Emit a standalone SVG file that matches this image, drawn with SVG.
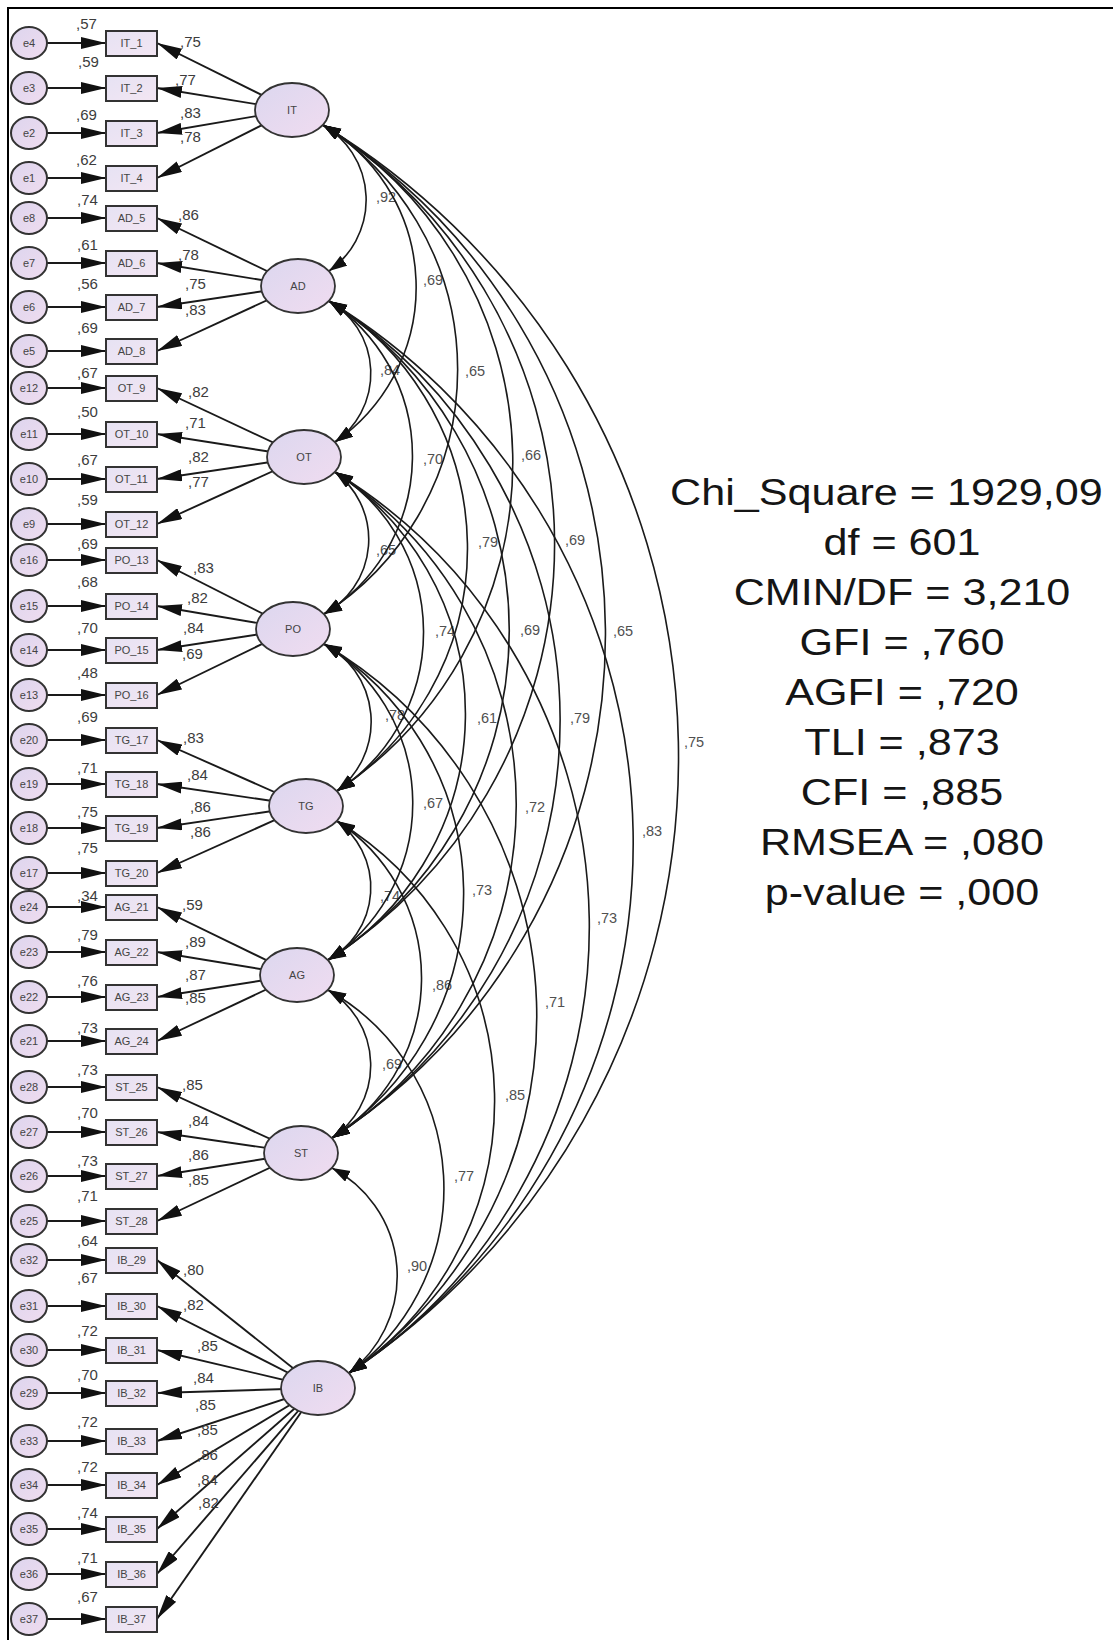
<svg xmlns="http://www.w3.org/2000/svg" width="1113" height="1640" viewBox="0 0 1113 1640">
  <defs>
    <linearGradient id="gLat" x1="0" y1="0" x2="1" y2="1">
      <stop offset="0" stop-color="#dcd7ef"/>
      <stop offset="1" stop-color="#f0dcf0"/>
    </linearGradient>
    <linearGradient id="gErr" x1="0" y1="0" x2="1" y2="1">
      <stop offset="0" stop-color="#ddd5ee"/>
      <stop offset="1" stop-color="#efdcef"/>
    </linearGradient>
    <linearGradient id="gBox" x1="0" y1="0" x2="1" y2="1">
      <stop offset="0" stop-color="#e6e2f3"/>
      <stop offset="1" stop-color="#f3e6f3"/>
    </linearGradient>
    <marker id="ah" markerUnits="userSpaceOnUse" markerWidth="26" markerHeight="12" refX="25" refY="6" orient="auto">
      <path d="M0,0 L25,6 L0,12 Z" fill="#111"/>
    </marker>
    <marker id="ch" markerUnits="userSpaceOnUse" markerWidth="19" markerHeight="13" refX="18" refY="6" orient="auto-start-reverse">
      <path d="M0,0 L18,6 L0,12 Z" fill="#111"/>
    </marker>
  </defs>
  <style>
    .ln { stroke:#1a1a1a; stroke-width:1.9; fill:none; marker-end:url(#ah); }
    .cv { stroke:#1a1a1a; stroke-width:1.6; fill:none; marker-start:url(#ch); marker-end:url(#ch); }
    .err ellipse { fill:url(#gErr); stroke:#333; stroke-width:2; }
    .box rect { fill:url(#gBox); stroke:#333; stroke-width:2; }
    .lat ellipse { fill:url(#gLat); stroke:#333; stroke-width:1.8; }
    text { font-family:"Liberation Sans", Arial, sans-serif; }
    .nl { font-size:11px; fill:#444; text-anchor:middle; }
    .v { font-size:15px; fill:#3c3c3c; }
    .c { font-size:14.5px; fill:#505050; }
    .st { font-size:37.5px; fill:#151515; text-anchor:middle; }
  </style>

  <rect width="1113" height="1640" fill="#ffffff"/>
  <!-- frame: only the left and top edges fall inside the canvas -->
  <rect x="8" y="8" width="1200" height="1700" fill="none" stroke="#000" stroke-width="2"/>

  <!-- connectors -->
  <g id="connectors">
    <!-- error terms to indicators -->
    <g id="error-paths">
      <line class="ln" x1="29" y1="43" x2="106" y2="43"/>
      <line class="ln" x1="29" y1="88" x2="106" y2="88"/>
      <line class="ln" x1="29" y1="133" x2="106" y2="133"/>
      <line class="ln" x1="29" y1="178" x2="106" y2="178"/>
      <line class="ln" x1="29" y1="218" x2="106" y2="218"/>
      <line class="ln" x1="29" y1="263" x2="106" y2="263"/>
      <line class="ln" x1="29" y1="307" x2="106" y2="307"/>
      <line class="ln" x1="29" y1="351" x2="106" y2="351"/>
      <line class="ln" x1="29" y1="388" x2="106" y2="388"/>
      <line class="ln" x1="29" y1="434" x2="106" y2="434"/>
      <line class="ln" x1="29" y1="479" x2="106" y2="479"/>
      <line class="ln" x1="29" y1="524" x2="106" y2="524"/>
      <line class="ln" x1="29" y1="560" x2="106" y2="560"/>
      <line class="ln" x1="29" y1="606" x2="106" y2="606"/>
      <line class="ln" x1="29" y1="650" x2="106" y2="650"/>
      <line class="ln" x1="29" y1="695" x2="106" y2="695"/>
      <line class="ln" x1="29" y1="740" x2="106" y2="740"/>
      <line class="ln" x1="29" y1="784" x2="106" y2="784"/>
      <line class="ln" x1="29" y1="828" x2="106" y2="828"/>
      <line class="ln" x1="29" y1="873" x2="106" y2="873"/>
      <line class="ln" x1="29" y1="907" x2="106" y2="907"/>
      <line class="ln" x1="29" y1="952" x2="106" y2="952"/>
      <line class="ln" x1="29" y1="997" x2="106" y2="997"/>
      <line class="ln" x1="29" y1="1041" x2="106" y2="1041"/>
      <line class="ln" x1="29" y1="1087" x2="106" y2="1087"/>
      <line class="ln" x1="29" y1="1132" x2="106" y2="1132"/>
      <line class="ln" x1="29" y1="1176" x2="106" y2="1176"/>
      <line class="ln" x1="29" y1="1221" x2="106" y2="1221"/>
      <line class="ln" x1="29" y1="1260" x2="106" y2="1260"/>
      <line class="ln" x1="29" y1="1306" x2="106" y2="1306"/>
      <line class="ln" x1="29" y1="1350" x2="106" y2="1350"/>
      <line class="ln" x1="29" y1="1393" x2="106" y2="1393"/>
      <line class="ln" x1="29" y1="1441" x2="106" y2="1441"/>
      <line class="ln" x1="29" y1="1485" x2="106" y2="1485"/>
      <line class="ln" x1="29" y1="1529" x2="106" y2="1529"/>
      <line class="ln" x1="29" y1="1574" x2="106" y2="1574"/>
      <line class="ln" x1="29" y1="1619" x2="106" y2="1619"/>
    </g>
    <!-- factor loadings (drawn from factor centres, hidden under the ellipses) -->
    <g id="loading-paths">
      <line class="ln" x1="292" y1="110" x2="157" y2="43"/>
      <line class="ln" x1="292" y1="110" x2="157" y2="88"/>
      <line class="ln" x1="292" y1="110" x2="157" y2="133"/>
      <line class="ln" x1="292" y1="110" x2="157" y2="178"/>
      <line class="ln" x1="298" y1="286" x2="157" y2="218"/>
      <line class="ln" x1="298" y1="286" x2="157" y2="263"/>
      <line class="ln" x1="298" y1="286" x2="157" y2="307"/>
      <line class="ln" x1="298" y1="286" x2="157" y2="351"/>
      <line class="ln" x1="304" y1="457" x2="157" y2="388"/>
      <line class="ln" x1="304" y1="457" x2="157" y2="434"/>
      <line class="ln" x1="304" y1="457" x2="157" y2="479"/>
      <line class="ln" x1="304" y1="457" x2="157" y2="524"/>
      <line class="ln" x1="293" y1="629" x2="157" y2="560"/>
      <line class="ln" x1="293" y1="629" x2="157" y2="606"/>
      <line class="ln" x1="293" y1="629" x2="157" y2="650"/>
      <line class="ln" x1="293" y1="629" x2="157" y2="695"/>
      <line class="ln" x1="306" y1="806" x2="157" y2="740"/>
      <line class="ln" x1="306" y1="806" x2="157" y2="784"/>
      <line class="ln" x1="306" y1="806" x2="157" y2="828"/>
      <line class="ln" x1="306" y1="806" x2="157" y2="873"/>
      <line class="ln" x1="297" y1="975" x2="157" y2="907"/>
      <line class="ln" x1="297" y1="975" x2="157" y2="952"/>
      <line class="ln" x1="297" y1="975" x2="157" y2="997"/>
      <line class="ln" x1="297" y1="975" x2="157" y2="1041"/>
      <line class="ln" x1="301" y1="1153" x2="157" y2="1087"/>
      <line class="ln" x1="301" y1="1153" x2="157" y2="1132"/>
      <line class="ln" x1="301" y1="1153" x2="157" y2="1176"/>
      <line class="ln" x1="301" y1="1153" x2="157" y2="1221"/>
      <line class="ln" x1="318" y1="1388" x2="157" y2="1260"/>
      <line class="ln" x1="318" y1="1388" x2="157" y2="1306"/>
      <line class="ln" x1="318" y1="1388" x2="157" y2="1350"/>
      <line class="ln" x1="318" y1="1388" x2="157" y2="1393"/>
      <line class="ln" x1="318" y1="1388" x2="157" y2="1441"/>
      <line class="ln" x1="318" y1="1388" x2="157" y2="1485"/>
      <line class="ln" x1="318" y1="1388" x2="157" y2="1529"/>
      <line class="ln" x1="318" y1="1388" x2="157" y2="1574"/>
      <line class="ln" x1="318" y1="1388" x2="157" y2="1619"/>
    </g>
    <!-- squared multiple correlations -->
    <g id="r2-labels" class="v">
      <text x="76" y="29">,57</text>
      <text x="78" y="67">,59</text>
      <text x="76" y="120">,69</text>
      <text x="76" y="165">,62</text>
      <text x="77" y="205">,74</text>
      <text x="77" y="250">,61</text>
      <text x="77" y="289">,56</text>
      <text x="77" y="333">,69</text>
      <text x="77" y="378">,67</text>
      <text x="77" y="417">,50</text>
      <text x="77" y="465">,67</text>
      <text x="77" y="505">,59</text>
      <text x="77" y="549">,69</text>
      <text x="77" y="587">,68</text>
      <text x="77" y="633">,70</text>
      <text x="77" y="678">,48</text>
      <text x="77" y="722">,69</text>
      <text x="77" y="773">,71</text>
      <text x="77" y="817">,75</text>
      <text x="77" y="853">,75</text>
      <text x="77" y="901">,34</text>
      <text x="77" y="940">,79</text>
      <text x="77" y="986">,76</text>
      <text x="77" y="1033">,73</text>
      <text x="77" y="1075">,73</text>
      <text x="77" y="1118">,70</text>
      <text x="77" y="1166">,73</text>
      <text x="77" y="1201">,71</text>
      <text x="77" y="1246">,64</text>
      <text x="77" y="1283">,67</text>
      <text x="77" y="1336">,72</text>
      <text x="77" y="1380">,70</text>
      <text x="77" y="1427">,72</text>
      <text x="77" y="1472">,72</text>
      <text x="77" y="1518">,74</text>
      <text x="77" y="1563">,71</text>
      <text x="77" y="1602">,67</text>
    </g>
    <!-- standardized loadings -->
    <g id="loading-labels" class="v">
      <text x="180" y="47">,75</text>
      <text x="175" y="85">,77</text>
      <text x="180" y="118">,83</text>
      <text x="180" y="142">,78</text>
      <text x="178" y="220">,86</text>
      <text x="178" y="260">,78</text>
      <text x="185" y="289">,75</text>
      <text x="185" y="315">,83</text>
      <text x="188" y="397">,82</text>
      <text x="185" y="428">,71</text>
      <text x="188" y="462">,82</text>
      <text x="188" y="487">,77</text>
      <text x="193" y="573">,83</text>
      <text x="187" y="603">,82</text>
      <text x="183" y="633">,84</text>
      <text x="182" y="659">,69</text>
      <text x="183" y="743">,83</text>
      <text x="187" y="780">,84</text>
      <text x="190" y="812">,86</text>
      <text x="190" y="837">,86</text>
      <text x="182" y="910">,59</text>
      <text x="185" y="947">,89</text>
      <text x="185" y="980">,87</text>
      <text x="185" y="1003">,85</text>
      <text x="182" y="1090">,85</text>
      <text x="188" y="1126">,84</text>
      <text x="188" y="1160">,86</text>
      <text x="188" y="1185">,85</text>
      <text x="183" y="1275">,80</text>
      <text x="183" y="1310">,82</text>
      <text x="197" y="1351">,85</text>
      <text x="193" y="1383">,84</text>
      <text x="195" y="1410">,85</text>
      <text x="197" y="1435">,85</text>
      <text x="197" y="1460">,86</text>
      <text x="197" y="1485">,84</text>
      <text x="198" y="1508">,82</text>
    </g>
    <!-- factor correlations -->
    <g id="corr-labels" class="c">
      <text x="376" y="202">,92</text>
      <text x="423" y="285">,69</text>
      <text x="380" y="375">,84</text>
      <text x="465" y="376">,65</text>
      <text x="423" y="464">,70</text>
      <text x="521" y="460">,66</text>
      <text x="376" y="555">,65</text>
      <text x="478" y="547">,79</text>
      <text x="565" y="545">,69</text>
      <text x="435" y="636">,74</text>
      <text x="520" y="635">,69</text>
      <text x="613" y="636">,65</text>
      <text x="385" y="720">,78</text>
      <text x="477" y="723">,61</text>
      <text x="570" y="723">,79</text>
      <text x="684" y="747">,75</text>
      <text x="423" y="808">,67</text>
      <text x="525" y="812">,72</text>
      <text x="642" y="836">,83</text>
      <text x="380" y="901">,74</text>
      <text x="472" y="895">,73</text>
      <text x="597" y="923">,73</text>
      <text x="432" y="990">,86</text>
      <text x="545" y="1007">,71</text>
      <text x="382" y="1069">,69</text>
      <text x="505" y="1100">,85</text>
      <text x="454" y="1181">,77</text>
      <text x="407" y="1271">,90</text>
    </g>
    <g id="correlations">
      <path class="cv" d="M323,125 A86.6,86.6 0 0 1 329,271"/>
      <path class="cv" d="M323,125 A188,188 0 0 1 335,442"/>
      <path class="cv" d="M323,125 A289.9,289.9 0 0 1 324,614"/>
      <path class="cv" d="M323,125 A394.9,394.9 0 0 1 337,791"/>
      <path class="cv" d="M323,125 A495,495 0 0 1 328,960"/>
      <path class="cv" d="M323,125 A600.5,600.5 0 0 1 332,1138"/>
      <path class="cv" d="M323,125 A740,740 0 0 1 349,1373"/>
      <path class="cv" d="M329,301 A83.6,83.6 0 0 1 335,442"/>
      <path class="cv" d="M329,301 A185.5,185.5 0 0 1 324,614"/>
      <path class="cv" d="M329,301 A290.5,290.5 0 0 1 337,791"/>
      <path class="cv" d="M329,301 A390.7,390.7 0 0 1 328,960"/>
      <path class="cv" d="M329,301 A496.2,496.2 0 0 1 332,1138"/>
      <path class="cv" d="M329,301 A635.6,635.6 0 0 1 349,1373"/>
      <path class="cv" d="M335,472 A84.4,84.4 0 0 1 324,614"/>
      <path class="cv" d="M335,472 A189.1,189.1 0 0 1 337,791"/>
      <path class="cv" d="M335,472 A289.3,289.3 0 0 1 328,960"/>
      <path class="cv" d="M335,472 A394.8,394.8 0 0 1 332,1138"/>
      <path class="cv" d="M335,472 A534.1,534.1 0 0 1 349,1373"/>
      <path class="cv" d="M324,644 A87.5,87.5 0 0 1 337,791"/>
      <path class="cv" d="M324,644 A187.3,187.3 0 0 1 328,960"/>
      <path class="cv" d="M324,644 A292.8,292.8 0 0 1 332,1138"/>
      <path class="cv" d="M324,644 A432.4,432.4 0 0 1 349,1373"/>
      <path class="cv" d="M337,821 A82.6,82.6 0 0 1 328,960"/>
      <path class="cv" d="M337,821 A187.9,187.9 0 0 1 332,1138"/>
      <path class="cv" d="M337,821 A327.2,327.2 0 0 1 349,1373"/>
      <path class="cv" d="M328,990 A87.7,87.7 0 0 1 332,1138"/>
      <path class="cv" d="M328,990 A227.4,227.4 0 0 1 349,1373"/>
      <path class="cv" d="M332,1168 A121.9,121.9 0 0 1 349,1373"/>
    </g>
  </g>

  <!-- error terms -->
  <g id="errors" class="err">
    <g id="e4"><ellipse cx="29" cy="43" rx="18" ry="16"/><text class="nl" x="29" y="47">e4</text></g>
    <g id="e3"><ellipse cx="29" cy="88" rx="18" ry="16"/><text class="nl" x="29" y="92">e3</text></g>
    <g id="e2"><ellipse cx="29" cy="133" rx="18" ry="16"/><text class="nl" x="29" y="137">e2</text></g>
    <g id="e1"><ellipse cx="29" cy="178" rx="18" ry="16"/><text class="nl" x="29" y="182">e1</text></g>
    <g id="e8"><ellipse cx="29" cy="218" rx="18" ry="16"/><text class="nl" x="29" y="222">e8</text></g>
    <g id="e7"><ellipse cx="29" cy="263" rx="18" ry="16"/><text class="nl" x="29" y="267">e7</text></g>
    <g id="e6"><ellipse cx="29" cy="307" rx="18" ry="16"/><text class="nl" x="29" y="311">e6</text></g>
    <g id="e5"><ellipse cx="29" cy="351" rx="18" ry="16"/><text class="nl" x="29" y="355">e5</text></g>
    <g id="e12"><ellipse cx="29" cy="388" rx="18" ry="16"/><text class="nl" x="29" y="392">e12</text></g>
    <g id="e11"><ellipse cx="29" cy="434" rx="18" ry="16"/><text class="nl" x="29" y="438">e11</text></g>
    <g id="e10"><ellipse cx="29" cy="479" rx="18" ry="16"/><text class="nl" x="29" y="483">e10</text></g>
    <g id="e9"><ellipse cx="29" cy="524" rx="18" ry="16"/><text class="nl" x="29" y="528">e9</text></g>
    <g id="e16"><ellipse cx="29" cy="560" rx="18" ry="16"/><text class="nl" x="29" y="564">e16</text></g>
    <g id="e15"><ellipse cx="29" cy="606" rx="18" ry="16"/><text class="nl" x="29" y="610">e15</text></g>
    <g id="e14"><ellipse cx="29" cy="650" rx="18" ry="16"/><text class="nl" x="29" y="654">e14</text></g>
    <g id="e13"><ellipse cx="29" cy="695" rx="18" ry="16"/><text class="nl" x="29" y="699">e13</text></g>
    <g id="e20"><ellipse cx="29" cy="740" rx="18" ry="16"/><text class="nl" x="29" y="744">e20</text></g>
    <g id="e19"><ellipse cx="29" cy="784" rx="18" ry="16"/><text class="nl" x="29" y="788">e19</text></g>
    <g id="e18"><ellipse cx="29" cy="828" rx="18" ry="16"/><text class="nl" x="29" y="832">e18</text></g>
    <g id="e17"><ellipse cx="29" cy="873" rx="18" ry="16"/><text class="nl" x="29" y="877">e17</text></g>
    <g id="e24"><ellipse cx="29" cy="907" rx="18" ry="16"/><text class="nl" x="29" y="911">e24</text></g>
    <g id="e23"><ellipse cx="29" cy="952" rx="18" ry="16"/><text class="nl" x="29" y="956">e23</text></g>
    <g id="e22"><ellipse cx="29" cy="997" rx="18" ry="16"/><text class="nl" x="29" y="1001">e22</text></g>
    <g id="e21"><ellipse cx="29" cy="1041" rx="18" ry="16"/><text class="nl" x="29" y="1045">e21</text></g>
    <g id="e28"><ellipse cx="29" cy="1087" rx="18" ry="16"/><text class="nl" x="29" y="1091">e28</text></g>
    <g id="e27"><ellipse cx="29" cy="1132" rx="18" ry="16"/><text class="nl" x="29" y="1136">e27</text></g>
    <g id="e26"><ellipse cx="29" cy="1176" rx="18" ry="16"/><text class="nl" x="29" y="1180">e26</text></g>
    <g id="e25"><ellipse cx="29" cy="1221" rx="18" ry="16"/><text class="nl" x="29" y="1225">e25</text></g>
    <g id="e32"><ellipse cx="29" cy="1260" rx="18" ry="16"/><text class="nl" x="29" y="1264">e32</text></g>
    <g id="e31"><ellipse cx="29" cy="1306" rx="18" ry="16"/><text class="nl" x="29" y="1310">e31</text></g>
    <g id="e30"><ellipse cx="29" cy="1350" rx="18" ry="16"/><text class="nl" x="29" y="1354">e30</text></g>
    <g id="e29"><ellipse cx="29" cy="1393" rx="18" ry="16"/><text class="nl" x="29" y="1397">e29</text></g>
    <g id="e33"><ellipse cx="29" cy="1441" rx="18" ry="16"/><text class="nl" x="29" y="1445">e33</text></g>
    <g id="e34"><ellipse cx="29" cy="1485" rx="18" ry="16"/><text class="nl" x="29" y="1489">e34</text></g>
    <g id="e35"><ellipse cx="29" cy="1529" rx="18" ry="16"/><text class="nl" x="29" y="1533">e35</text></g>
    <g id="e36"><ellipse cx="29" cy="1574" rx="18" ry="16"/><text class="nl" x="29" y="1578">e36</text></g>
    <g id="e37"><ellipse cx="29" cy="1619" rx="18" ry="16"/><text class="nl" x="29" y="1623">e37</text></g>
  </g>

  <!-- observed indicators -->
  <g id="indicators" class="box">
    <g id="IT_1"><rect x="106" y="31" width="51" height="25"/><text class="nl" x="131.5" y="47">IT_1</text></g>
    <g id="IT_2"><rect x="106" y="76" width="51" height="25"/><text class="nl" x="131.5" y="92">IT_2</text></g>
    <g id="IT_3"><rect x="106" y="121" width="51" height="25"/><text class="nl" x="131.5" y="137">IT_3</text></g>
    <g id="IT_4"><rect x="106" y="166" width="51" height="25"/><text class="nl" x="131.5" y="182">IT_4</text></g>
    <g id="AD_5"><rect x="106" y="206" width="51" height="25"/><text class="nl" x="131.5" y="222">AD_5</text></g>
    <g id="AD_6"><rect x="106" y="251" width="51" height="25"/><text class="nl" x="131.5" y="267">AD_6</text></g>
    <g id="AD_7"><rect x="106" y="295" width="51" height="25"/><text class="nl" x="131.5" y="311">AD_7</text></g>
    <g id="AD_8"><rect x="106" y="339" width="51" height="25"/><text class="nl" x="131.5" y="355">AD_8</text></g>
    <g id="OT_9"><rect x="106" y="376" width="51" height="25"/><text class="nl" x="131.5" y="392">OT_9</text></g>
    <g id="OT_10"><rect x="106" y="422" width="51" height="25"/><text class="nl" x="131.5" y="438">OT_10</text></g>
    <g id="OT_11"><rect x="106" y="467" width="51" height="25"/><text class="nl" x="131.5" y="483">OT_11</text></g>
    <g id="OT_12"><rect x="106" y="512" width="51" height="25"/><text class="nl" x="131.5" y="528">OT_12</text></g>
    <g id="PO_13"><rect x="106" y="548" width="51" height="25"/><text class="nl" x="131.5" y="564">PO_13</text></g>
    <g id="PO_14"><rect x="106" y="594" width="51" height="25"/><text class="nl" x="131.5" y="610">PO_14</text></g>
    <g id="PO_15"><rect x="106" y="638" width="51" height="25"/><text class="nl" x="131.5" y="654">PO_15</text></g>
    <g id="PO_16"><rect x="106" y="683" width="51" height="25"/><text class="nl" x="131.5" y="699">PO_16</text></g>
    <g id="TG_17"><rect x="106" y="728" width="51" height="25"/><text class="nl" x="131.5" y="744">TG_17</text></g>
    <g id="TG_18"><rect x="106" y="772" width="51" height="25"/><text class="nl" x="131.5" y="788">TG_18</text></g>
    <g id="TG_19"><rect x="106" y="816" width="51" height="25"/><text class="nl" x="131.5" y="832">TG_19</text></g>
    <g id="TG_20"><rect x="106" y="861" width="51" height="25"/><text class="nl" x="131.5" y="877">TG_20</text></g>
    <g id="AG_21"><rect x="106" y="895" width="51" height="25"/><text class="nl" x="131.5" y="911">AG_21</text></g>
    <g id="AG_22"><rect x="106" y="940" width="51" height="25"/><text class="nl" x="131.5" y="956">AG_22</text></g>
    <g id="AG_23"><rect x="106" y="985" width="51" height="25"/><text class="nl" x="131.5" y="1001">AG_23</text></g>
    <g id="AG_24"><rect x="106" y="1029" width="51" height="25"/><text class="nl" x="131.5" y="1045">AG_24</text></g>
    <g id="ST_25"><rect x="106" y="1075" width="51" height="25"/><text class="nl" x="131.5" y="1091">ST_25</text></g>
    <g id="ST_26"><rect x="106" y="1120" width="51" height="25"/><text class="nl" x="131.5" y="1136">ST_26</text></g>
    <g id="ST_27"><rect x="106" y="1164" width="51" height="25"/><text class="nl" x="131.5" y="1180">ST_27</text></g>
    <g id="ST_28"><rect x="106" y="1209" width="51" height="25"/><text class="nl" x="131.5" y="1225">ST_28</text></g>
    <g id="IB_29"><rect x="106" y="1248" width="51" height="25"/><text class="nl" x="131.5" y="1264">IB_29</text></g>
    <g id="IB_30"><rect x="106" y="1294" width="51" height="25"/><text class="nl" x="131.5" y="1310">IB_30</text></g>
    <g id="IB_31"><rect x="106" y="1338" width="51" height="25"/><text class="nl" x="131.5" y="1354">IB_31</text></g>
    <g id="IB_32"><rect x="106" y="1381" width="51" height="25"/><text class="nl" x="131.5" y="1397">IB_32</text></g>
    <g id="IB_33"><rect x="106" y="1429" width="51" height="25"/><text class="nl" x="131.5" y="1445">IB_33</text></g>
    <g id="IB_34"><rect x="106" y="1473" width="51" height="25"/><text class="nl" x="131.5" y="1489">IB_34</text></g>
    <g id="IB_35"><rect x="106" y="1517" width="51" height="25"/><text class="nl" x="131.5" y="1533">IB_35</text></g>
    <g id="IB_36"><rect x="106" y="1562" width="51" height="25"/><text class="nl" x="131.5" y="1578">IB_36</text></g>
    <g id="IB_37"><rect x="106" y="1607" width="51" height="25"/><text class="nl" x="131.5" y="1623">IB_37</text></g>
  </g>

  <!-- latent factors -->
  <g id="factors" class="lat">
    <g id="IT"><ellipse cx="292" cy="110" rx="37" ry="27"/><text class="nl" x="292" y="114">IT</text></g>
    <g id="AD"><ellipse cx="298" cy="286" rx="37" ry="27"/><text class="nl" x="298" y="290">AD</text></g>
    <g id="OT"><ellipse cx="304" cy="457" rx="37" ry="27"/><text class="nl" x="304" y="461">OT</text></g>
    <g id="PO"><ellipse cx="293" cy="629" rx="37" ry="27"/><text class="nl" x="293" y="633">PO</text></g>
    <g id="TG"><ellipse cx="306" cy="806" rx="37" ry="27"/><text class="nl" x="306" y="810">TG</text></g>
    <g id="AG"><ellipse cx="297" cy="975" rx="37" ry="27"/><text class="nl" x="297" y="979">AG</text></g>
    <g id="ST"><ellipse cx="301" cy="1153" rx="37" ry="27"/><text class="nl" x="301" y="1157">ST</text></g>
    <g id="IB"><ellipse cx="318" cy="1388" rx="37" ry="27"/><text class="nl" x="318" y="1392">IB</text></g>
  </g>

  <!-- model fit summary -->
  <g id="fit-summary" transform="translate(902,0) scale(1.15,1)">
    <text class="st" x="-201.7" y="505" text-anchor="start" style="text-anchor:start">Chi_Square = 1929,09</text>
    <text class="st" x="0" y="555">df = 601</text>
    <text class="st" x="0" y="605">CMIN/DF = 3,210</text>
    <text class="st" x="0" y="655">GFI = ,760</text>
    <text class="st" x="0" y="705">AGFI = ,720</text>
    <text class="st" x="0" y="755">TLI = ,873</text>
    <text class="st" x="0" y="805">CFI = ,885</text>
    <text class="st" x="0" y="855">RMSEA = ,080</text>
    <text class="st" x="0" y="905">p-value = ,000</text>
  </g>
</svg>
